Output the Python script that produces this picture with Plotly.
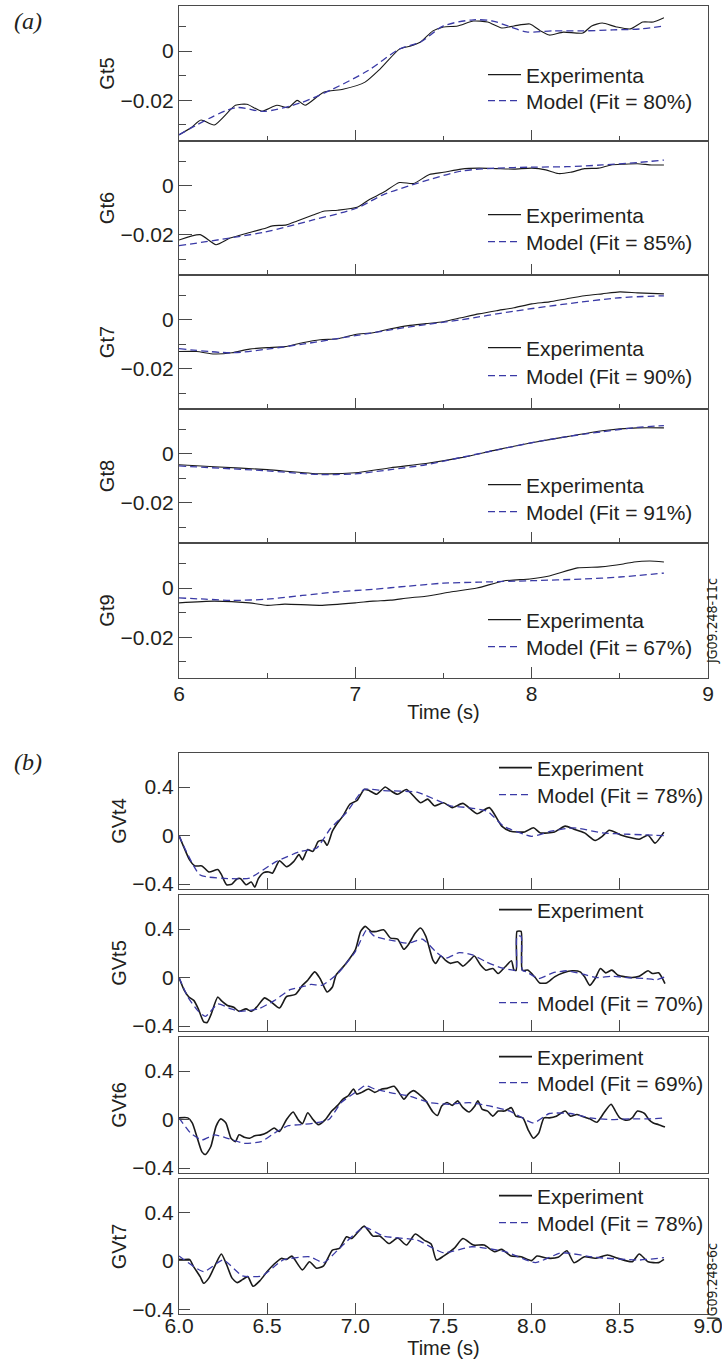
import plotly.graph_objects as go

W, H = 722, 1369           # browser window = figure size
OFF = 0                    # page margin is removed in the written page (see post_script)
FW, FH = W, H

# ---------------- (a) data ----------------
gt5_exp_t = [6.0, 6.07, 6.125, 6.2, 6.32, 6.385, 6.47, 6.555, 6.62, 6.67, 6.715, 6.82, 6.93, 7.055, 7.14, 7.25, 7.31, 7.37, 7.44, 7.5, 7.58, 7.67, 7.75, 7.83, 7.9, 7.99, 8.05, 8.1, 8.18, 8.29, 8.34, 8.4, 8.48, 8.56, 8.63, 8.69, 8.75]
gt5_exp_v = [-0.034, -0.031, -0.028, -0.030, -0.022, -0.0216, -0.0244, -0.022, -0.023, -0.020, -0.022, -0.0167, -0.0155, -0.0126, -0.0073, 0.0008, 0.002, 0.0037, 0.0082, 0.0098, 0.0102, 0.0122, 0.0118, 0.0094, 0.0102, 0.011, 0.0082, 0.0065, 0.0077, 0.0073, 0.0102, 0.0114, 0.0098, 0.009, 0.0118, 0.0118, 0.0135]
gt5_mod_t = [6.0, 6.32, 6.48, 6.69, 6.87, 7.07, 7.25, 7.37, 7.5, 7.67, 7.78, 7.88, 7.97, 8.12, 8.29, 8.46, 8.62, 8.75]
gt5_mod_v = [-0.034, -0.023, -0.0245, -0.021, -0.0155, -0.008, 0.0008, 0.0037, 0.0102, 0.0127, 0.0122, 0.0098, 0.0078, 0.0082, 0.0082, 0.0086, 0.009, 0.0102]

gt6_exp_t = [6.0, 6.12, 6.21, 6.29, 6.38, 6.48, 6.53, 6.61, 6.67, 6.76, 6.82, 6.9, 7.01, 7.08, 7.16, 7.25, 7.33, 7.42, 7.5, 7.6, 7.7, 7.8, 7.9, 8.0, 8.08, 8.15, 8.22, 8.3, 8.38, 8.45, 8.52, 8.6, 8.68, 8.75]
gt6_exp_v = [-0.0222, -0.020, -0.0241, -0.0214, -0.0195, -0.0176, -0.0164, -0.016, -0.0144, -0.012, -0.0104, -0.010, -0.0088, -0.0056, -0.0027, 0.0013, 0.0009, 0.0046, 0.0055, 0.0068, 0.0072, 0.007, 0.0068, 0.0072, 0.0065, 0.005, 0.0055, 0.007, 0.0072, 0.0085, 0.0088, 0.009, 0.0085, 0.0085]
gt6_mod_t = [6.0, 6.48, 6.76, 7.01, 7.16, 7.42, 7.6, 7.8, 8.0, 8.2, 8.4, 8.6, 8.75]
gt6_mod_v = [-0.0245, -0.019, -0.014, -0.0091, -0.0036, 0.0025, 0.006, 0.0072, 0.0076, 0.0078, 0.0085, 0.0095, 0.0105]

gt7_exp_t = [6.0, 6.1, 6.2, 6.3, 6.4, 6.5, 6.6, 6.7, 6.8, 6.9, 7.0, 7.1, 7.2, 7.3, 7.4, 7.5, 7.6, 7.7, 7.8, 7.9, 8.0, 8.1, 8.2, 8.3, 8.4, 8.5, 8.6, 8.75]
gt7_exp_v = [-0.013, -0.013, -0.014, -0.0135, -0.012, -0.0114, -0.011, -0.0094, -0.0082, -0.0078, -0.006, -0.0053, -0.0037, -0.0024, -0.0016, -0.0008, 0.0008, 0.0024, 0.0037, 0.0049, 0.0065, 0.0073, 0.0086, 0.0098, 0.0106, 0.0114, 0.011, 0.0106]
gt7_mod_t = [6.0, 6.3, 6.5, 6.7, 7.0, 7.3, 7.6, 7.9, 8.2, 8.5, 8.75]
gt7_mod_v = [-0.0118, -0.0135, -0.012, -0.010, -0.0065, -0.003, 0.0, 0.0035, 0.0065, 0.009, 0.0098]

gt8_exp_t = [6.0, 6.2, 6.5, 6.8, 7.0, 7.2, 7.4, 7.6, 7.8, 8.0, 8.2, 8.4, 8.6, 8.75]
gt8_exp_v = [-0.0045, -0.0053, -0.0065, -0.0082, -0.0078, -0.0057, -0.004, -0.0016, 0.0016, 0.0045, 0.007, 0.0094, 0.0106, 0.0106]
gt8_mod_t = [6.0, 6.5, 6.8, 7.0, 7.2, 7.4, 7.6, 7.8, 8.0, 8.2, 8.4, 8.6, 8.75]
gt8_mod_v = [-0.005, -0.007, -0.0085, -0.0082, -0.0065, -0.0045, -0.0015, 0.0015, 0.0045, 0.007, 0.009, 0.0108, 0.0115]

gt9_exp_t = [6.0, 6.2, 6.4, 6.5, 6.6, 6.8, 7.0, 7.1, 7.2, 7.3, 7.4, 7.54, 7.69, 7.84, 7.99, 8.1, 8.26, 8.39, 8.52, 8.58, 8.67, 8.75]
gt9_exp_v = [-0.006, -0.0053, -0.006, -0.007, -0.0065, -0.007, -0.006, -0.0053, -0.0049, -0.004, -0.0033, -0.0016, 0.0, 0.0029, 0.0037, 0.0049, 0.0082, 0.0086, 0.0098, 0.0106, 0.011, 0.0106]
gt9_mod_t = [6.0, 6.15, 6.3, 6.5, 6.7, 6.9, 7.1, 7.3, 7.5, 7.7, 8.0, 8.3, 8.5, 8.75]
gt9_mod_v = [-0.004, -0.0045, -0.005, -0.0045, -0.003, -0.0015, -0.0005, 0.0008, 0.002, 0.0024, 0.003, 0.0037, 0.0045, 0.0061]

# ---------------- (b) data ----------------
gvt4_exp_t = [6.0, 6.03, 6.06, 6.09, 6.13, 6.17, 6.22, 6.24, 6.27, 6.3, 6.33, 6.35, 6.38, 6.41, 6.43, 6.45, 6.48, 6.51, 6.53, 6.55, 6.57, 6.61, 6.65, 6.68, 6.7, 6.71, 6.73, 6.76, 6.79, 6.82, 6.84, 6.87, 6.9, 6.93, 6.97, 7.01, 7.05, 7.08, 7.12, 7.17, 7.2, 7.24, 7.29, 7.37, 7.41, 7.45, 7.5, 7.55, 7.61, 7.69, 7.76, 7.83, 7.88, 7.96, 8.01, 8.05, 8.13, 8.19, 8.24, 8.3, 8.36, 8.4, 8.44, 8.51, 8.57, 8.61, 8.66, 8.7, 8.75]
gvt4_exp_v = [0.0, -0.104, -0.2, -0.25, -0.25, -0.3, -0.28, -0.32, -0.405, -0.4, -0.355, -0.355, -0.405, -0.383, -0.425, -0.355, -0.305, -0.3, -0.31, -0.257, -0.207, -0.257, -0.215, -0.157, -0.2, -0.173, -0.115, -0.13, -0.048, -0.04, -0.08, 0.036, 0.105, 0.162, 0.26, 0.29, 0.38, 0.37, 0.34, 0.4, 0.37, 0.34, 0.38, 0.27, 0.3, 0.245, 0.27, 0.23, 0.265, 0.18, 0.23, 0.078, 0.036, 0.03, 0.064, 0.022, 0.03, 0.078, 0.053, 0.022, -0.04, -0.006, 0.044, 0.003, -0.02, -0.03, 0.003, -0.062, 0.028]
gvt4_mod_t = [6.0, 6.12, 6.3, 6.4, 6.55, 6.69, 6.78, 6.86, 6.95, 7.05, 7.16, 7.35, 7.54, 7.64, 7.75, 7.84, 8.0, 8.11, 8.24, 8.4, 8.55, 8.75]
gvt4_mod_v = [0.0, -0.325, -0.355, -0.35, -0.215, -0.13, -0.104, 0.06, 0.19, 0.38, 0.37, 0.357, 0.245, 0.23, 0.2, 0.078, -0.006, 0.036, 0.064, 0.022, 0.011, 0.0]

gvt5_exp_t = [6.0, 6.03, 6.056, 6.085, 6.11, 6.14, 6.16, 6.18, 6.22, 6.24, 6.275, 6.31, 6.34, 6.38, 6.41, 6.44, 6.485, 6.52, 6.57, 6.61, 6.66, 6.7, 6.73, 6.77, 6.8, 6.84, 6.87, 6.89, 6.94, 7.0, 7.03, 7.056, 7.09, 7.12, 7.16, 7.2, 7.24, 7.275, 7.3, 7.34, 7.37, 7.4, 7.44, 7.456, 7.485, 7.51, 7.54, 7.58, 7.61, 7.65, 7.675, 7.71, 7.74, 7.78, 7.81, 7.85, 7.885, 7.9, 7.912, 7.917, 7.94, 7.947, 7.98, 8.02, 8.045, 8.085, 8.13, 8.18, 8.23, 8.275, 8.3, 8.33, 8.36, 8.39, 8.42, 8.455, 8.49, 8.53, 8.57, 8.61, 8.66, 8.685, 8.72, 8.756]
gvt5_exp_v = [0.0, -0.106, -0.16, -0.19, -0.26, -0.364, -0.37, -0.31, -0.16, -0.19, -0.23, -0.244, -0.278, -0.258, -0.278, -0.244, -0.167, -0.197, -0.25, -0.156, -0.139, -0.064, -0.022, 0.047, -0.008, -0.119, -0.078, 0.019, 0.103, 0.228, 0.38, 0.422, 0.38, 0.38, 0.394, 0.325, 0.317, 0.233, 0.27, 0.367, 0.408, 0.339, 0.144, 0.117, 0.178, 0.144, 0.117, 0.13, 0.094, 0.144, 0.178, 0.103, 0.061, 0.075, 0.033, 0.089, 0.139, 0.061, 0.06, 0.38, 0.38, 0.061, 0.061, 0.0, -0.044, -0.044, 0.006, 0.039, 0.056, 0.047, 0.006, -0.064, -0.008, 0.075, 0.039, 0.061, 0.019, 0.006, 0.0, 0.011, 0.056, 0.033, 0.039, -0.05]
gvt5_mod_t = [6.0, 6.05, 6.105, 6.15, 6.22, 6.295, 6.35, 6.45, 6.54, 6.63, 6.695, 6.75, 6.81, 6.9, 7.0, 7.065, 7.11, 7.19, 7.3, 7.38, 7.456, 7.51, 7.59, 7.665, 7.74, 7.82, 7.895, 7.912, 7.917, 7.94, 7.947, 7.97, 8.04, 8.12, 8.2, 8.29, 8.37, 8.45, 8.54, 8.64, 8.71, 8.756]
gvt5_mod_v = [0.0, -0.16, -0.27, -0.32, -0.217, -0.258, -0.278, -0.258, -0.19, -0.1, -0.078, -0.056, -0.064, 0.033, 0.214, 0.394, 0.339, 0.311, 0.283, 0.317, 0.214, 0.158, 0.206, 0.186, 0.131, 0.083, 0.061, 0.06, 0.34, 0.34, 0.06, 0.047, -0.008, 0.039, 0.056, 0.028, 0.0, 0.011, 0.0, -0.008, -0.017, 0.006]

gvt6_exp_t = [6.0, 6.05, 6.075, 6.104, 6.13, 6.15, 6.18, 6.21, 6.237, 6.266, 6.295, 6.32, 6.34, 6.37, 6.4, 6.43, 6.465, 6.5, 6.54, 6.57, 6.61, 6.647, 6.675, 6.7, 6.73, 6.76, 6.79, 6.83, 6.866, 6.9, 6.93, 6.96, 6.99, 7.008, 7.036, 7.075, 7.11, 7.15, 7.18, 7.22, 7.247, 7.276, 7.3, 7.33, 7.36, 7.4, 7.44, 7.466, 7.49, 7.52, 7.55, 7.58, 7.61, 7.646, 7.675, 7.695, 7.72, 7.75, 7.78, 7.81, 7.846, 7.885, 7.91, 7.95, 7.98, 8.01, 8.04, 8.07, 8.1, 8.14, 8.19, 8.22, 8.256, 8.284, 8.33, 8.37, 8.41, 8.45, 8.475, 8.5, 8.54, 8.57, 8.6, 8.64, 8.665, 8.69, 8.72, 8.756]
gvt6_exp_v = [0.014, 0.014, -0.028, -0.154, -0.266, -0.288, -0.224, -0.056, 0.006, -0.028, -0.154, -0.182, -0.126, -0.145, -0.154, -0.134, -0.126, -0.106, -0.07, -0.098, 0.0, 0.062, 0.0, -0.034, 0.056, 0.0, -0.042, 0.0, 0.07, 0.117, 0.168, 0.196, 0.252, 0.21, 0.224, 0.252, 0.224, 0.252, 0.257, 0.274, 0.224, 0.168, 0.21, 0.238, 0.21, 0.154, 0.062, 0.034, 0.112, 0.14, 0.117, 0.154, 0.098, 0.062, 0.106, 0.154, 0.084, 0.07, 0.028, 0.07, 0.07, 0.098, 0.028, 0.014, -0.084, -0.154, -0.112, 0.014, 0.014, 0.028, 0.07, 0.028, 0.042, 0.028, 0.006, -0.022, 0.056, 0.126, 0.07, 0.014, -0.006, 0.014, 0.07, 0.05, 0.0, -0.028, -0.042, -0.062]
gvt6_mod_t = [6.0, 6.066, 6.13, 6.2, 6.275, 6.37, 6.466, 6.54, 6.62, 6.694, 6.77, 6.85, 6.92, 7.0, 7.056, 7.11, 7.21, 7.3, 7.42, 7.53, 7.646, 7.76, 7.876, 8.01, 8.1, 8.22, 8.33, 8.45, 8.56, 8.675, 8.756]
gvt6_mod_v = [0.014, -0.112, -0.168, -0.126, -0.154, -0.196, -0.182, -0.112, -0.05, -0.042, -0.028, 0.0, 0.14, 0.224, 0.28, 0.252, 0.218, 0.196, 0.14, 0.126, 0.14, 0.112, 0.07, -0.028, 0.05, 0.05, 0.014, 0.0, 0.006, 0.006, 0.014]

gvt7_exp_t = [6.0, 6.02, 6.06, 6.08, 6.12, 6.14, 6.17, 6.21, 6.24, 6.27, 6.3, 6.33, 6.36, 6.39, 6.42, 6.46, 6.5, 6.54, 6.58, 6.61, 6.64, 6.7, 6.74, 6.78, 6.82, 6.87, 6.91, 6.95, 6.98, 7.05, 7.1, 7.14, 7.19, 7.24, 7.29, 7.34, 7.39, 7.43, 7.46, 7.5, 7.56, 7.61, 7.67, 7.73, 7.79, 7.83, 7.88, 7.94, 8.0, 8.03, 8.09, 8.15, 8.2, 8.24, 8.3, 8.36, 8.43, 8.49, 8.57, 8.61, 8.66, 8.72, 8.75]
gvt7_exp_v = [0.013, 0.01, 0.013, -0.04, -0.13, -0.185, -0.14, -0.02, 0.058, -0.03, -0.14, -0.18, -0.155, -0.13, -0.21, -0.162, -0.088, -0.025, 0.021, 0.013, 0.04, -0.074, -0.006, -0.06, -0.04, 0.09, 0.104, 0.2, 0.186, 0.289, 0.206, 0.206, 0.145, 0.19, 0.132, 0.223, 0.173, 0.14, 0.008, 0.04, 0.104, 0.186, 0.132, 0.132, 0.077, 0.096, 0.044, 0.035, 0.003, 0.041, 0.022, 0.03, 0.085, -0.014, 0.035, 0.022, 0.049, 0.022, -0.006, 0.058, -0.006, -0.014, 0.013]
gvt7_mod_t = [6.0, 6.14, 6.25, 6.36, 6.47, 6.59, 6.74, 6.82, 6.91, 7.05, 7.16, 7.35, 7.5, 7.66, 7.85, 8.02, 8.17, 8.36, 8.61, 8.75]
gvt7_mod_v = [0.041, -0.088, 0.008, -0.124, -0.124, 0.008, 0.035, -0.014, 0.104, 0.28, 0.206, 0.173, 0.068, 0.118, 0.077, -0.014, 0.068, 0.03, 0.008, 0.027]

a_titles = ["Gt5", "Gt6", "Gt7", "Gt8", "Gt9"]
a_fits = ["80%", "85%", "90%", "91%", "67%"]
b_titles = ["GVt4", "GVt5", "GVt6", "GVt7"]
b_fits = ["78%", "70%", "69%", "78%"]

a_series = [(gt5_exp_t, gt5_exp_v, gt5_mod_t, gt5_mod_v),
            (gt6_exp_t, gt6_exp_v, gt6_mod_t, gt6_mod_v),
            (gt7_exp_t, gt7_exp_v, gt7_mod_t, gt7_mod_v),
            (gt8_exp_t, gt8_exp_v, gt8_mod_t, gt8_mod_v),
            (gt9_exp_t, gt9_exp_v, gt9_mod_t, gt9_mod_v)]
b_series = [(gvt4_exp_t, gvt4_exp_v, gvt4_mod_t, gvt4_mod_v),
            (gvt5_exp_t, gvt5_exp_v, gvt5_mod_t, gvt5_mod_v),
            (gvt6_exp_t, gvt6_exp_v, gvt6_mod_t, gvt6_mod_v),
            (gvt7_exp_t, gvt7_exp_v, gvt7_mod_t, gvt7_mod_v)]

# ---------------- layout geometry (window pixels) ----------------
X0, X1 = 179, 708
a_px = [(6, 141), (141, 275), (275, 409), (409, 543), (543, 678)]
b_px = [(753, 889), (895, 1031), (1037, 1173), (1179, 1314)]
a_leg_y = [(75, 101), (215, 242), (348, 376), (485, 512), (620, 647)]
b_leg_y = [(768, 795), (910, 1003), (1057, 1083), (1196, 1223)]
A_LEG_X, B_LEG_X = 483, 494


def fx(px):
    return (px - OFF) / FW


def fy(py, clamp=True):
    v = 1 - (py - OFF) / FH
    return min(1.0, max(0.0, v)) if clamp else v


def ydom(top, bot):
    return [fy(bot), fy(top)]


AXC = "#4a4a4a"
TXT = "#231f20"
BLUE = "#3a3aa6"
FONT = "Liberation Sans, Arial, Helvetica, sans-serif"
DASH = "7px,4px"

fig = go.Figure()
layout = dict(width=FW, height=FH, margin=dict(l=0, r=0, t=0, b=0, autoexpand=False),
              paper_bgcolor="white", plot_bgcolor="white",
              font=dict(family=FONT, size=20, color=TXT), showlegend=True)

legend_count = [0]


def new_legend(cy_px, left_px):
    legend_count[0] += 1
    n = legend_count[0]
    key = "legend" if n == 1 else f"legend{n}"
    layout[key] = dict(x=fx(left_px), y=fy(cy_px), xanchor="left", yanchor="middle",
                       bgcolor="rgba(0,0,0,0)", borderwidth=0,
                       font=dict(family=FONT, size=21, color=TXT),
                       itemwidth=33)
    return key


ax = 0
for i, (title, fit, (et, ev, mt, mv), (top, bot)) in enumerate(zip(a_titles, a_fits, a_series, a_px)):
    ax += 1
    xs = "x" if ax == 1 else f"x{ax}"
    ys = "y" if ax == 1 else f"y{ax}"
    last = i == len(a_titles) - 1
    layout["xaxis" if ax == 1 else f"xaxis{ax}"] = dict(
        domain=[fx(X0), fx(X1)], range=[6, 9], anchor=ys, automargin=False,
        showline=True, mirror=True, linecolor=AXC, linewidth=1.3,
        ticks="inside", ticklen=11, tickwidth=1.2, tickcolor=AXC,
        tickvals=[6, 7, 8, 9], ticktext=["6", "7", "8", "9"],
        minor=dict(tickvals=[6.5, 7.5, 8.5], ticks="inside", ticklen=5, tickwidth=1.2, tickcolor=AXC),
        showticklabels=last, tickfont=dict(size=21), ticklabelstandoff=-3,
        ticklabeloverflow="allow", showgrid=False, zeroline=False,
        title=dict(text="Time (s)" if last else "", font=dict(size=20), standoff=0))
    layout["yaxis" if ax == 1 else f"yaxis{ax}"] = dict(
        domain=ydom(top, bot), range=[-0.0365, 0.0183], anchor=xs, automargin=False,
        showline=True, mirror=True, linecolor=AXC, linewidth=1.3,
        ticks="inside", ticklen=13, tickwidth=1.2, tickcolor=AXC,
        tickvals=[0, -0.02], ticktext=["0", "\u22120.02"],
        minor=dict(tickvals=[0.01, -0.01, -0.03], ticks="inside", ticklen=7, tickwidth=1.2, tickcolor=AXC),
        tickfont=dict(size=21), showgrid=False, zeroline=False,
        title=dict(text=title, font=dict(size=20), standoff=0))
    lg1 = new_legend(a_leg_y[i][0], A_LEG_X)
    lg2 = new_legend(a_leg_y[i][1], A_LEG_X)
    fig.add_trace(go.Scatter(x=et, y=ev, xaxis=xs, yaxis=ys, mode="lines",
                             line=dict(color="#1a1a1a", width=1.1, shape="spline", smoothing=0.6),
                             name="Experimenta", legend=lg1))
    fig.add_trace(go.Scatter(x=mt, y=mv, xaxis=xs, yaxis=ys, mode="lines",
                             line=dict(color=BLUE, width=1.3, dash=DASH, shape="spline", smoothing=0.8),
                             name=f"Model (Fit = {fit})", legend=lg2))

for i, (title, fit, (et, ev, mt, mv), (top, bot)) in enumerate(zip(b_titles, b_fits, b_series, b_px)):
    ax += 1
    xs = f"x{ax}"
    ys = f"y{ax}"
    last = i == len(b_titles) - 1
    layout[f"xaxis{ax}"] = dict(
        domain=[fx(X0), fx(X1)], range=[6, 9], anchor=ys, automargin=False,
        showline=True, mirror=True, linecolor=AXC, linewidth=1.3,
        ticks="inside", ticklen=11, tickwidth=1.2, tickcolor=AXC,
        tickvals=[6.0, 6.5, 7.0, 7.5, 8.0, 8.5, 9.0], tickformat=".1f",
        showticklabels=last, tickfont=dict(size=21), ticklabelstandoff=-7,
        ticklabeloverflow="allow", showgrid=False, zeroline=False,
        title=dict(text="Time (s)" if last else "", font=dict(size=20), standoff=0))
    layout[f"yaxis{ax}"] = dict(
        domain=ydom(top, bot), range=[-0.44, 0.68], anchor=xs, automargin=False,
        showline=True, mirror=True, linecolor=AXC, linewidth=1.3,
        ticks="inside", ticklen=11, tickwidth=1.2, tickcolor=AXC,
        tickvals=[-0.4, 0, 0.4], ticktext=["\u22120.4", "0", "0.4"],
        tickfont=dict(size=21), showgrid=False, zeroline=False,
        title=dict(text=title, font=dict(size=20), standoff=0))
    lg1 = new_legend(b_leg_y[i][0], B_LEG_X)
    lg2 = new_legend(b_leg_y[i][1], B_LEG_X)
    fig.add_trace(go.Scatter(x=et, y=ev, xaxis=xs, yaxis=ys, mode="lines",
                             line=dict(color="#1a1a1a", width=1.6, shape="spline", smoothing=0.6),
                             name="Experiment", legend=lg1))
    fig.add_trace(go.Scatter(x=mt, y=mv, xaxis=xs, yaxis=ys, mode="lines",
                             line=dict(color=BLUE, width=1.3, dash=DASH, shape="spline", smoothing=0.5),
                             name=f"Model (Fit = {fit})", legend=lg2))

SERIF = "Liberation Serif, Times New Roman, serif"
NARROW = "Liberation Sans Narrow, DejaVu Sans Condensed, Arial Narrow, sans-serif"
layout["annotations"] = [
    dict(text="<i>(a)</i>", x=fx(12), y=fy(6), xref="paper", yref="paper",
         xanchor="left", yanchor="top", showarrow=False,
         font=dict(family=SERIF, size=24, color=TXT)),
    dict(text="<i>(b)</i>", x=fx(12), y=fy(747), xref="paper", yref="paper",
         xanchor="left", yanchor="top", showarrow=False,
         font=dict(family=SERIF, size=24, color=TXT)),
    dict(text="JG09.248-11c", x=fx(712), y=fy(621), xref="paper", yref="paper",
         xanchor="center", yanchor="middle", textangle=-90, showarrow=False,
         font=dict(family=NARROW, size=14, color=TXT)),
    dict(text="JG09.248-6c", x=fx(712), y=fy(1282), xref="paper", yref="paper",
         xanchor="center", yanchor="middle", textangle=-90, showarrow=False,
         font=dict(family=NARROW, size=14, color=TXT)),
]

fig.update_layout(**layout)
# remove the browser's default 8 px page margin so the figure fills the window exactly
fig.write_html("out.html",
               config={"displayModeBar": False},
               post_script="document.body.style.margin='0';"
                           "document.documentElement.style.overflow='hidden';")
